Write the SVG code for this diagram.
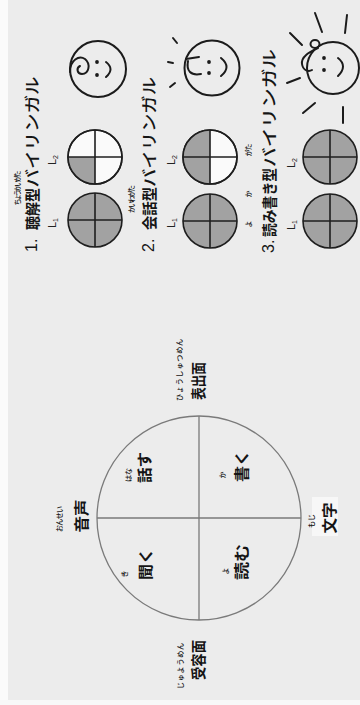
<svg xmlns="http://www.w3.org/2000/svg" width="360" height="705" viewBox="0 0 360 705">
  <style>
    text { font-family: "Noto Sans CJK JP", "Noto Sans", sans-serif; fill: #151515; dominant-baseline: central; text-anchor: middle; }
    .ttl { font-size: 15px; font-weight: 700; }
    .kata { font-size: 16px; font-weight: 500; }
    .num { font-family: "Liberation Sans", sans-serif; font-size: 16px; text-anchor: start; }
    .ruby { font-size: 7px; font-weight: 500; }
    .lab { font-size: 15px; font-weight: 700; }
    .lx { font-family: "Liberation Sans", sans-serif; font-size: 11px; fill: #222; }
    .pie { fill: #fafafa; stroke: #1e1e1e; stroke-width: 1.6; }
    .rim { fill: none; stroke: #1e1e1e; stroke-width: 1.6; }
    .shade { fill: #a2a2a2; stroke: none; }
    .cross { stroke: #1e1e1e; stroke-width: 1.6; fill: none; }
    .ink { fill: none; stroke: #1b1b1b; stroke-width: 2; stroke-linecap: round; stroke-linejoin: round; }
    .dot { fill: #1b1b1b; }
    .chart { fill: none; stroke: #7a7a7a; stroke-width: 1.3; }
  </style>
  <defs>
    <!-- quadrant cross of one L1/L2 chart, centred on the origin, radius 27 -->
    <g id="cross">
      <circle r="27" class="rim"/>
      <line class="cross" x1="-27" y1="0" x2="27" y2="0"/>
      <line class="cross" x1="0" y1="-27" x2="0" y2="27"/>
    </g>
  </defs>

  <!-- paper -->
  <rect x="0" y="0" width="360" height="705" fill="#ececec"/>
  <rect x="0" y="0" width="8" height="705" fill="#fbfbfb"/>
  <rect x="0" y="700" width="360" height="5" fill="#f8f8f8"/>

  <!-- 1. listening-comprehension type -->
  <g id="type1">
    <text class="num" transform="translate(31,252) rotate(-90)">1.</text>
    <text class="ttl" transform="translate(31,209) rotate(-90)" textLength="42" lengthAdjust="spacingAndGlyphs">聴解型</text>
    <text class="kata" transform="translate(31,132) rotate(-90)" textLength="111" lengthAdjust="spacingAndGlyphs">バイリンガル</text>
    <text class="ruby" transform="translate(17,188) rotate(-90)" textLength="35">ちょうかいがた</text>
    <text class="lx" transform="translate(52,223) rotate(-90)">L<tspan font-size="7" dy="3">1</tspan></text>
    <text class="lx" transform="translate(52,160) rotate(-90)">L<tspan font-size="7" dy="3">2</tspan></text>
    <g transform="translate(95,220)">
      <circle r="27" class="shade"/><use href="#cross"/>
    </g>
    <g transform="translate(95,157)">
      <circle r="27" class="pie"/>
      <path class="shade" d="M0,0 L-27,0 A27,27 0 0 0 0,27 Z"/>
      <use href="#cross"/>
    </g>
    <g id="face1">
      <circle cx="98" cy="69" r="28" class="ink"/>
      <path class="ink" d="M70,72 C70,60 79,55 85,59 C91,64 89,74 82,74 C77,74 76,68 80,66"/>
      <circle cx="97" cy="62" r="1.9" class="dot"/>
      <circle cx="97" cy="75" r="1.9" class="dot"/>
      <path class="ink" d="M106,62 Q115,69 106,77"/>
    </g>
  </g>

  <!-- 2. conversational type -->
  <g id="type2">
    <text class="num" transform="translate(148,252) rotate(-90)">2.</text>
    <text class="ttl" transform="translate(148,208.5) rotate(-90)" textLength="43" lengthAdjust="spacingAndGlyphs">会話型</text>
    <text class="kata" transform="translate(148,132) rotate(-90)" textLength="110" lengthAdjust="spacingAndGlyphs">バイリンガル</text>
    <text class="ruby" transform="translate(131,199) rotate(-90)" textLength="28">かいわがた</text>
    <text class="lx" transform="translate(171,223) rotate(-90)">L<tspan font-size="7" dy="3">1</tspan></text>
    <text class="lx" transform="translate(171,160) rotate(-90)">L<tspan font-size="7" dy="3">2</tspan></text>
    <g transform="translate(210,221)">
      <circle r="27" class="shade"/><use href="#cross"/>
    </g>
    <g transform="translate(210,157)">
      <circle r="27" class="pie"/>
      <path class="shade" d="M0,-27 A27,27 0 0 0 0,27 Z"/>
      <use href="#cross"/>
    </g>
    <g id="face2">
      <circle cx="212" cy="68" r="27.5" class="ink"/>
      <path class="ink" d="M186,59 L199,57 M188,61 C186,71 191,76 201,74"/>
      <circle cx="209" cy="62" r="1.9" class="dot"/>
      <circle cx="209" cy="73" r="1.9" class="dot"/>
      <path class="ink" d="M221,58 Q232,67 221,76"/>
      <path class="ink" d="M173,38 L177,43 M168,62 L173,63 M170,87 L175,83"/>
    </g>
  </g>

  <!-- 3. reading/writing type -->
  <g id="type3">
    <text class="num" transform="translate(268,253) rotate(-90)">3.</text>
    <text class="ttl" transform="translate(268,202.5) rotate(-90)" textLength="69" lengthAdjust="spacingAndGlyphs">読み書き型</text>
    <text class="kata" transform="translate(268,108) rotate(-90)" textLength="118" lengthAdjust="spacingAndGlyphs">バイリンガル</text>
    <text class="ruby" transform="translate(248,224) rotate(-90)">よ</text>
    <text class="ruby" transform="translate(248,194) rotate(-90)">か</text>
    <text class="ruby" transform="translate(248,150) rotate(-90)" textLength="13">がた</text>
    <text class="lx" transform="translate(291,225) rotate(-90)">L<tspan font-size="7" dy="3">1</tspan></text>
    <text class="lx" transform="translate(291,163) rotate(-90)">L<tspan font-size="7" dy="3">2</tspan></text>
    <g transform="translate(330,221)">
      <circle r="27" class="shade"/><use href="#cross"/>
    </g>
    <g transform="translate(330,157)">
      <circle r="27" class="shade"/><use href="#cross"/>
    </g>
    <g id="face3">
      <circle cx="333" cy="68" r="26" class="ink"/>
      <ellipse cx="315" cy="44" rx="4.5" ry="4" class="ink"/>
      <path class="ink" d="M318,48 C310,52 301,56 302,64 C303,71 309,72 312,70"/>
      <circle cx="324" cy="58" r="1.9" class="dot"/>
      <circle cx="324" cy="70" r="1.9" class="dot"/>
      <path class="ink" d="M338,58 Q348,66 338,76"/>
      <path class="ink" d="M315,13 L322,32 M347,15 L345,33 M290,33 L302,45 M287,83 L300,78 M303,113 L315,103 M343,107 L343,123"/>
    </g>
  </g>

  <!-- receptive / productive, sound / script chart -->
  <g id="chart">
    <g id="connectors">
      <circle cx="199" cy="518" r="102" class="chart"/>
      <line x1="97" y1="518" x2="301" y2="518" class="chart"/>
      <line x1="199" y1="416" x2="199" y2="620" class="chart"/>
    </g>
    <g id="lbl-hyoshutsu">
      <text class="lab" transform="translate(197,381) rotate(-90)" textLength="38" lengthAdjust="spacingAndGlyphs">表出面</text>
      <text class="ruby" transform="translate(179,370) rotate(-90)" textLength="62">ひょうしゅつめん</text>
    </g>
    <g id="lbl-juyo">
      <text class="lab" transform="translate(197,660) rotate(-90)" textLength="40" lengthAdjust="spacingAndGlyphs">受容面</text>
      <text class="ruby" transform="translate(180,666) rotate(-90)" textLength="46">じゅようめん</text>
    </g>
    <g id="lbl-onsei">
      <text class="lab" transform="translate(80,516) rotate(-90)" textLength="33" lengthAdjust="spacingAndGlyphs">音声</text>
      <text class="ruby" transform="translate(59,519) rotate(-90)" textLength="26">おんせい</text>
    </g>
    <g id="lbl-moji">
      <rect x="312" y="497" width="26" height="39" fill="#f7f7f7"/>
      <text class="lab" transform="translate(328,518) rotate(-90)" textLength="31" lengthAdjust="spacingAndGlyphs">文字</text>
      <text class="ruby" transform="translate(311,521) rotate(-90)">もじ</text>
    </g>
    <g id="q-hanasu">
      <text class="lab" transform="translate(143,467.5) rotate(-90)" textLength="31" lengthAdjust="spacingAndGlyphs">話す</text>
      <text class="ruby" transform="translate(128,475) rotate(-90)">はな</text>
    </g>
    <g id="q-kaku">
      <text class="lab" transform="translate(240,466) rotate(-90)" textLength="32" lengthAdjust="spacingAndGlyphs">書く</text>
      <text class="ruby" transform="translate(222,475) rotate(-90)">か</text>
    </g>
    <g id="q-kiku">
      <text class="lab" transform="translate(144,564) rotate(-90)" textLength="32" lengthAdjust="spacingAndGlyphs">聞く</text>
      <text class="ruby" transform="translate(124,574) rotate(-90)">き</text>
    </g>
    <g id="q-yomu">
      <text class="lab" transform="translate(240,562) rotate(-90)" textLength="36" lengthAdjust="spacingAndGlyphs">読む</text>
      <text class="ruby" transform="translate(225,571) rotate(-90)">よ</text>
    </g>
  </g>
</svg>
